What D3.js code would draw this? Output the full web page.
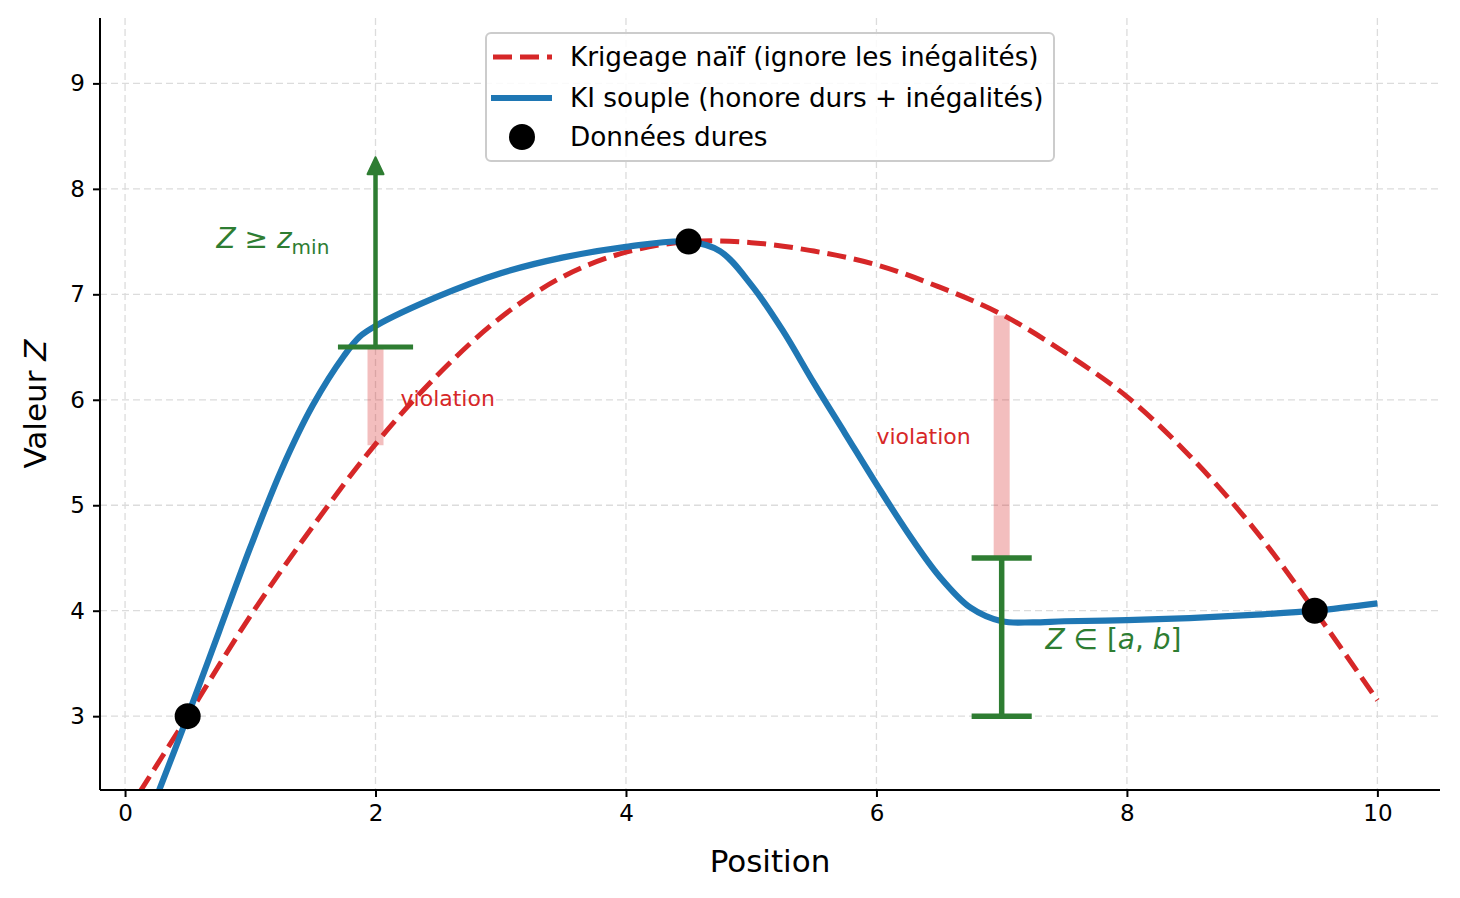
<!DOCTYPE html>
<html>
<head>
<meta charset="utf-8">
<script src="https://cdn.jsdelivr.net/npm/d3@7"></script>
<style>
	body { margin: 0; background: #fff; }
	text { font-family: "DejaVu Sans", sans-serif; }
</style>
</head>
<body>
<div id="wrapper"></div>
<script>
// hard data points
const hardX = [0.5, 4.5, 9.5];
const hardZ = [3.0, 7.5, 4.0];

// naive kriging (dashed red)
const naiveX = [0, 0.5, 1, 1.5, 2, 2.5, 3, 3.5, 4, 4.5, 5, 5.5, 6, 6.5, 7, 7.5, 8, 8.5, 9, 9.5, 10];
const naiveZ = [2.06, 3.0, 3.95, 4.8, 5.58, 6.24, 6.78, 7.17, 7.4, 7.5, 7.49, 7.41, 7.28, 7.07, 6.81, 6.45, 6.03, 5.47, 4.8, 4.0, 3.15];

// soft indicator kriging (blue)
const kiX = [0.25, 0.5, 0.75, 1, 1.25, 1.5, 1.75, 1.875, 2, 2.5, 3, 3.5, 4, 4.5, 4.75, 5, 5.25, 5.5, 5.75, 6, 6.25, 6.5, 6.75, 7, 7.25, 7.5, 8, 8.5, 9, 9.5, 10];
const kiZ = [2.23, 3.0, 3.8, 4.6, 5.34, 5.95, 6.42, 6.6, 6.7, 6.98, 7.2, 7.35, 7.45, 7.5, 7.41, 7.09, 6.66, 6.16, 5.68, 5.2, 4.74, 4.33, 4.03, 3.9, 3.89, 3.9, 3.91, 3.93, 3.96, 4.0, 4.07];

// inequality constraints
const minX = 2, zMin = 6.5, minArrowTop = 8.3, minNaive = 5.57;
const intX = 7, intA = 3.0, intB = 4.5, intNaive = 6.8;

const xTicks = [0, 2, 4, 6, 8, 10];
const yTicks = [3, 4, 5, 6, 7, 8, 9];

const legendLabels = [
	"Krigeage naïf (ignore les inégalités)",
	"KI souple (honore durs + inégalités)",
	"Données dures",
];

const red = "#d62728";
const blue = "#1f77b4";
const green = "#2e7d32";

const dims = { width: 1460, height: 898, left: 100, right: 1440, top: 18, bottom: 790 };

const svg = d3.select("#wrapper")
	.append("svg")
	.attr("width", dims.width)
	.attr("height", dims.height);

const xScale = d3.scaleLinear().domain([-0.2, 10.5]).range([dims.left, dims.right]);
const yScale = d3.scaleLinear().domain([2.3, 9.62]).range([dims.bottom, dims.top]);

svg.append("clipPath").attr("id", "plot-clip")
	.append("rect")
	.attr("x", dims.left).attr("y", dims.top)
	.attr("width", dims.right - dims.left).attr("height", dims.bottom - dims.top);

// grid
const grid = svg.append("g").attr("stroke", "#dcdcdc").attr("stroke-width", 1.3).attr("stroke-dasharray", "7,4");
grid.selectAll(".gx").data(xTicks).join("line")
	.attr("x1", (d) => xScale(d)).attr("x2", (d) => xScale(d))
	.attr("y1", dims.top).attr("y2", dims.bottom);
grid.selectAll(".gy").data(yTicks).join("line")
	.attr("x1", dims.left).attr("x2", dims.right)
	.attr("y1", (d) => yScale(d)).attr("y2", (d) => yScale(d));

const plot = svg.append("g").attr("clip-path", "url(#plot-clip)");

// violation bars
const violations = [[minX, minNaive, zMin], [intX, intB, intNaive]];
plot.selectAll(".viol").data(violations).join("line")
	.attr("x1", (d) => xScale(d[0])).attr("x2", (d) => xScale(d[0]))
	.attr("y1", (d) => yScale(d[1])).attr("y2", (d) => yScale(d[2]))
	.attr("stroke", red).attr("stroke-opacity", 0.3).attr("stroke-width", 16);

const line = d3.line().curve(d3.curveCatmullRom.alpha(0.5))
	.x((d) => xScale(d[0])).y((d) => yScale(d[1]));

plot.append("path")
	.attr("d", line(d3.zip(naiveX, naiveZ)))
	.attr("fill", "none").attr("stroke", red)
	.attr("stroke-width", 5).attr("stroke-dasharray", "19,8");

plot.append("path")
	.attr("d", line(d3.zip(kiX, kiZ)))
	.attr("fill", "none").attr("stroke", blue)
	.attr("stroke-width", 6.2);

// minimum constraint: bar + arrow
plot.append("line")
	.attr("x1", xScale(minX - 0.3)).attr("x2", xScale(minX + 0.3))
	.attr("y1", yScale(zMin)).attr("y2", yScale(zMin))
	.attr("stroke", green).attr("stroke-width", 5);
plot.append("line")
	.attr("x1", xScale(minX)).attr("x2", xScale(minX))
	.attr("y1", yScale(zMin)).attr("y2", yScale(minArrowTop) + 14)
	.attr("stroke", green).attr("stroke-width", 4.5);
const tipX = xScale(minX), tipY = yScale(minArrowTop);
plot.append("path")
	.attr("d", `M${tipX},${tipY} L${tipX - 8},${tipY + 17} L${tipX + 8},${tipY + 17} Z`)
	.attr("fill", green).attr("stroke", green).attr("stroke-width", 2).attr("stroke-linejoin", "round");

// interval constraint: error bar
const cap = 0.24;
plot.append("line")
	.attr("x1", xScale(intX)).attr("x2", xScale(intX))
	.attr("y1", yScale(intA)).attr("y2", yScale(intB))
	.attr("stroke", green).attr("stroke-width", 5.5);
plot.selectAll(".cap").data([intA, intB]).join("line")
	.attr("x1", xScale(intX - cap)).attr("x2", xScale(intX + cap))
	.attr("y1", (d) => yScale(d)).attr("y2", (d) => yScale(d))
	.attr("stroke", green).attr("stroke-width", 5.5);

// hard data
plot.selectAll(".hard").data(d3.zip(hardX, hardZ)).join("circle")
	.attr("cx", (d) => xScale(d[0])).attr("cy", (d) => yScale(d[1]))
	.attr("r", 13).attr("fill", "#000");

// annotations
const zminLabel = svg.append("text")
	.attr("x", xScale(0.73)).attr("y", yScale(7.44))
	.attr("fill", green).attr("font-size", 28);
zminLabel.append("tspan").attr("font-style", "italic").text("Z");
zminLabel.append("tspan").text(" ≥ ");
zminLabel.append("tspan").attr("font-style", "italic").text("z");
zminLabel.append("tspan").attr("font-size", 20).attr("dy", 6).text("min");

const intLabel = svg.append("text")
	.attr("x", xScale(7.35)).attr("y", yScale(3.64))
	.attr("fill", green).attr("font-size", 28);
intLabel.append("tspan").attr("font-style", "italic").text("Z");
intLabel.append("tspan").text(" ∈ [");
intLabel.append("tspan").attr("font-style", "italic").text("a");
intLabel.append("tspan").text(", ");
intLabel.append("tspan").attr("font-style", "italic").text("b");
intLabel.append("tspan").text("]");

svg.selectAll(".viol-label").data([[2.2, 5.94], [6.0, 5.58]]).join("text")
	.attr("x", (d) => xScale(d[0])).attr("y", (d) => yScale(d[1]))
	.attr("fill", red).attr("font-size", 22).text("violation");

// axes
const xAxis = svg.append("g")
	.attr("transform", `translate(0, ${dims.bottom})`)
	.call(d3.axisBottom(xScale).tickValues(xTicks).tickSize(7).tickPadding(8).tickSizeOuter(0));
const yAxis = svg.append("g")
	.attr("transform", `translate(${dims.left}, 0)`)
	.call(d3.axisLeft(yScale).tickValues(yTicks).tickSize(7).tickPadding(8).tickSizeOuter(0));
[xAxis, yAxis].forEach((ax) => {
	ax.select(".domain").attr("stroke-width", 2);
	ax.selectAll(".tick line").attr("stroke-width", 2);
	ax.selectAll(".tick text").attr("font-size", 23).attr("font-family", "DejaVu Sans");
});
xAxis.select(".domain").attr("d", `M${dims.left},0H${dims.right}`);
yAxis.select(".domain").attr("d", `M0,${dims.top}V${dims.bottom}`);

svg.append("text")
	.attr("x", (dims.left + dims.right) / 2).attr("y", 872)
	.attr("text-anchor", "middle").attr("font-size", 31).text("Position");

const yLabel = svg.append("text")
	.attr("transform", `translate(46, ${(dims.top + dims.bottom) / 2}) rotate(-90)`)
	.attr("text-anchor", "middle").attr("font-size", 31);
yLabel.append("tspan").text("Valeur ");
yLabel.append("tspan").attr("font-style", "italic").text("Z");

// legend
const legend = svg.append("g");
legend.append("rect")
	.attr("x", 486).attr("y", 33).attr("width", 568).attr("height", 128)
	.attr("rx", 5).attr("fill", "#fff").attr("fill-opacity", 0.85)
	.attr("stroke", "#cccccc").attr("stroke-width", 2);
const rowY = [57, 98, 137];
legend.append("line")
	.attr("x1", 493).attr("x2", 552).attr("y1", rowY[0]).attr("y2", rowY[0])
	.attr("stroke", red).attr("stroke-width", 5).attr("stroke-dasharray", "19,8");
legend.append("line")
	.attr("x1", 491).attr("x2", 552).attr("y1", rowY[1]).attr("y2", rowY[1])
	.attr("stroke", blue).attr("stroke-width", 6.2);
legend.append("circle")
	.attr("cx", 522).attr("cy", rowY[2]).attr("r", 13).attr("fill", "#000");
legend.selectAll(".lt").data(legendLabels).join("text")
	.attr("x", 570).attr("y", (d, i) => rowY[i] + 9)
	.attr("font-size", 26.3).text((d) => d);
</script>
</body>
</html>
